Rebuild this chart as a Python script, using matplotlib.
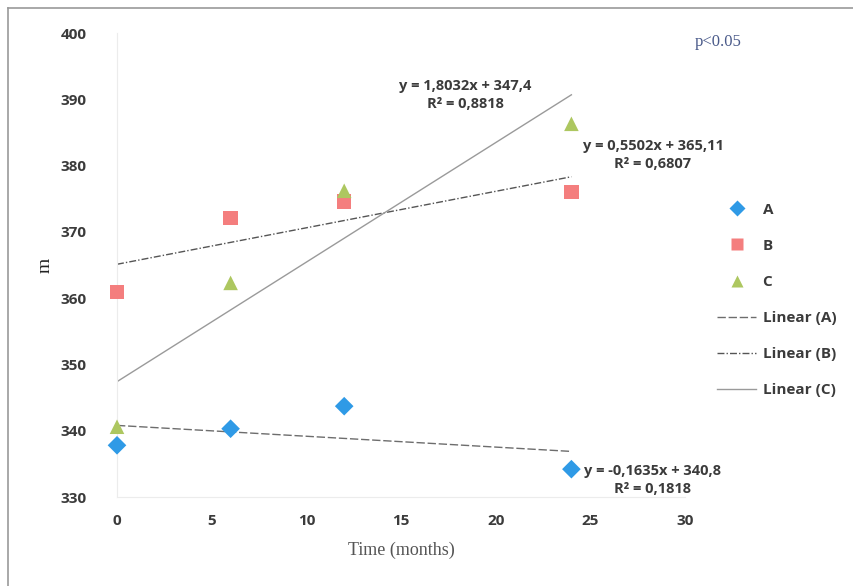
import numpy as np
import matplotlib.pyplot as plt
from matplotlib.lines import Line2D

# data
months = [0, 6, 12, 24]
series_a = [337.8, 340.3, 343.7, 334.2]
series_b = [360.9, 372.1, 374.6, 376.0]
series_c = [340.6, 362.3, 376.2, 386.3]

# trendline coefficients as printed on the chart
slopes = [-0.1635, 0.5502, 1.8032]
intercepts = [340.8, 365.11, 347.4]
r2 = ["0,1818", "0,6807", "0,8818"]
eq_text = ["y = -0,1635x + 340,8", "y = 0,5502x + 365,11", "y = 1,8032x + 347,4"]

names = ["A", "B", "C"]
colors = ["#2F9AE6", "#F47E7E", "#ADC760"]
markers = ["D", "s", "^"]
line_colors = ["#6d6d6d", "#555555", "#9a9a9a"]
line_styles = [(0, (6, 2)), (0, (5, 1.5, 1, 1.5)), "-"]

tick_font = "Open Sans"
txt = "#3b3b3b"

fig = plt.figure(figsize=(8.54, 5.86), dpi=100)
ax = fig.add_axes([117 / 854, 1 - 497 / 586, (685 - 117) / 854, (497 - 33) / 586])

for vals, c, m, n in zip([series_a, series_b, series_c], colors, markers, names):
    ax.scatter(months, vals, color=c, marker=m, s=110 if m != "D" else 90,
               label=n, zorder=3, edgecolors="none", clip_on=False)

xfit = np.array([0, 24])
for i in range(3):
    ax.plot(xfit, slopes[i] * xfit + intercepts[i], color=line_colors[i],
            lw=1.0, ls=line_styles[i], zorder=2)

ax.set_xlim(0, 30)
ax.set_ylim(330, 400)
ax.set_xticks(range(0, 31, 5))
ax.set_yticks(range(330, 401, 10))
for s in ["top", "right"]:
    ax.spines[s].set_visible(False)
ax.spines["left"].set_color("#ececec")
ax.spines["bottom"].set_color("#ececec")
ax.tick_params(length=0, pad=12, labelsize=11, colors=txt)
ax.tick_params(axis="y", pad=22)
for lab in ax.get_xticklabels() + ax.get_yticklabels():
    lab.set_fontfamily(tick_font)
    lab.set_fontweight("bold")

ax.set_xlabel("Time (months)", family="Liberation Serif", fontsize=13,
              color="#555555", labelpad=10)
fig.text(45 / 854, 1 - 265 / 586, "m", family="Liberation Serif", fontsize=14,
         color="#222222", rotation=90, ha="center", va="center")

# trendline equations
eq_pos = [(653, 480), (653, 155), (465, 95)]
for i in range(3):
    px, py = eq_pos[i]
    fig.text(px / 854, 1 - py / 586, eq_text[i] + "\nR² = " + r2[i],
             ha="center", va="center", multialignment="center",
             family=tick_font, fontweight="bold", fontsize=10.5, color=txt,
             linespacing=1.35)

fig.text(718 / 854, 1 - 42 / 586, "p<0.05", family="Liberation Serif",
         fontsize=12, color="#4a5a8a", ha="center", va="center")

handles = []
for c, m, n in zip(colors, markers, names):
    handles.append(Line2D([], [], ls="none", marker=m, color=c, markersize=8,
                          markeredgecolor="none", label=n))
for i, n in enumerate(names):
    handles.append(Line2D([], [], color=line_colors[i], ls=line_styles[i],
                          lw=1.0, label="Linear (" + n + ")"))
leg = fig.legend(handles=handles, loc="center left",
                 bbox_to_anchor=(703 / 854, 1 - 300 / 586), frameon=False,
                 handlelength=2.6, labelspacing=1.45, handletextpad=0.4,
                 prop={"family": tick_font, "weight": "bold", "size": 11})
for t in leg.get_texts():
    t.set_color(txt)

# outer chart border
fig.add_artist(Line2D([8 / 854, 8 / 854], [0, 1 - 8 / 586],
                      transform=fig.transFigure, color="#999999", lw=1.2))
fig.add_artist(Line2D([8 / 854, 1], [1 - 8 / 586, 1 - 8 / 586],
                      transform=fig.transFigure, color="#999999", lw=1.2))

fig.savefig("out.png", dpi=100)
